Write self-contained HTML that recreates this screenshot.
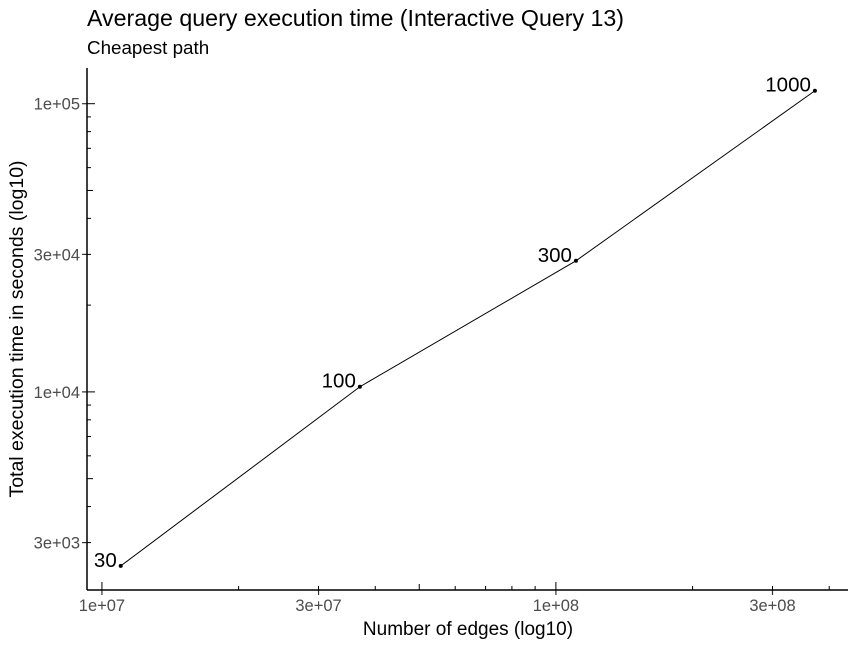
<!DOCTYPE html>
<html><head><meta charset="utf-8"><style>
body{margin:0;background:#fff;}
svg{display:block;font-family:"Liberation Sans",sans-serif;}
</style></head><body>
<svg id="chart" width="859" height="647" viewBox="0 0 859 647">
<text x="87" y="26" font-size="23.2" fill="#000">Average query execution time (Interactive Query 13)</text>
<text x="87" y="54" font-size="18.8" fill="#000">Cheapest path</text>
<text x="468" y="635" font-size="19" text-anchor="middle" fill="#000">Number of edges (log10)</text>
<text transform="translate(23,329) rotate(-90)" font-size="19.5" text-anchor="middle" fill="#000">Total execution time in seconds (log10)</text>
<g id="axes"></g><g id="marks"></g>
</svg>
<script>
const labels = ["30","100","300","1000"];
const edges = [1.1e7, 3.7e7, 1.107e8, 3.72e8];
const times = [2490, 10420, 28500, 110900];
const xTicks = [1e7, 3e7, 1e8, 3e8];
const xTickLabels = ["1e+07","3e+07","1e+08","3e+08"];
const yTicks = [3e3, 1e4, 3e4, 1e5];
const yTickLabels = ["3e+03","1e+04","3e+04","1e+05"];
const NS="http://www.w3.org/2000/svg";
const L=87,R=848,T=68,B=590;
const xmin=Math.log10(0.927e7), xmax=Math.log10(4.4e8);
const ymin=Math.log10(2054), ymax=Math.log10(133000);
const X=v=>L+(Math.log10(v)-xmin)/(xmax-xmin)*(R-L);
const Y=v=>B-(Math.log10(v)-ymin)/(ymax-ymin)*(B-T);
function mk(tag,attrs,parent,text){const e=document.createElementNS(NS,tag);for(const k in attrs)e.setAttribute(k,attrs[k]);if(text!==undefined)e.textContent=text;parent.appendChild(e);return e;}
const ax=document.getElementById('axes'), mg=document.getElementById('marks');
for(let d=6;d<=9;d++)for(let m=1;m<=9;m++){const v=m*Math.pow(10,d);if(v<Math.pow(10,xmin)||v>Math.pow(10,xmax))continue;const x=X(v);const len=m===1?8:m===5?6:4;
const t=mk('line',{x1:x,x2:x,y1:B,y2:B-len,stroke:'#000','stroke-width':1},ax);

}
for(let d=3;d<=5;d++)for(let m=1;m<=9;m++){const v=m*Math.pow(10,d);if(v<Math.pow(10,ymin)||v>Math.pow(10,ymax))continue;const y=Y(v);const len=m===1?8:m===5?6:4;
const t=mk('line',{x1:L,x2:L+len,y1:y,y2:y,stroke:'#000','stroke-width':1},ax);

}
xTicks.forEach((v,i)=>{const x=X(v);
mk('line',{x1:x,x2:x,y1:B,y2:B+5,stroke:'#333','stroke-width':1.2},ax);
const t=mk('text',{x:x,y:B+21,'font-size':16.5,'text-anchor':'middle',fill:'#4d4d4d'},ax,xTickLabels[i]);

});
yTicks.forEach((v,i)=>{const y=Y(v);
mk('line',{x1:L-5,x2:L,y1:y,y2:y,stroke:'#333','stroke-width':1.2},ax);
const t=mk('text',{x:L-7,y:y+6,'font-size':16.5,'text-anchor':'end',fill:'#4d4d4d'},ax,yTickLabels[i]);

});
const xa=mk('line',{x1:L,x2:R,y1:B,y2:B,stroke:'#000','stroke-width':1.5},ax);


const ya=mk('line',{x1:L,x2:L,y1:T,y2:B,stroke:'#000','stroke-width':1.5},ax);


const ln=mk('polyline',{points:edges.map((e,i)=>X(e)+','+Y(times[i])).join(' '),fill:'none',stroke:'#000','stroke-width':1},mg);


edges.forEach((e,i)=>{const x=X(e),y=Y(times[i]);
const c=mk('circle',{cx:x,cy:y,r:2,fill:'#000'},mg);


const t=mk('text',{x:x-4,y:y+1,'font-size':20.5,'text-anchor':'end',fill:'#000'},mg,labels[i]);

});
</script>
</body></html>
